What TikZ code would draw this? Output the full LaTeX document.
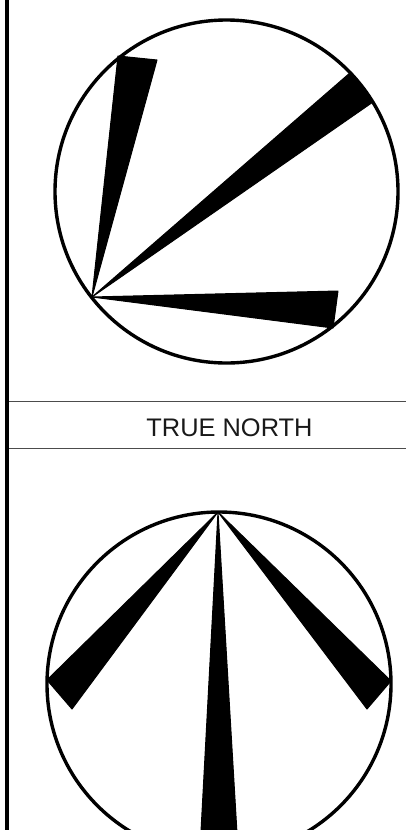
\documentclass[tikz,border=0pt]{standalone}
\usepackage{fontspec}
\setmainfont{Liberation Sans}
\tikzset{
    ring/.style={line width=3.4pt},
    wedge/.style={fill=black, draw=black, line width=1pt, line join=round},
    rule/.style={line width=1pt, draw=black!70}
}

\begin{document}
\begin{tikzpicture}[x=1pt, y=-1pt]
    \useasboundingbox (0, 0) rectangle (406, 830);
    \clip (0, 0) rectangle (406, 830);

    % Frame
    \draw[line width=3.6pt] (7, 0) -- (7, 830);
    \draw[rule] (9, 401.5) -- (406, 401.5);
    \draw[rule] (9, 448.5) -- (406, 448.5);

    % Label
    \node[font=\fontsize{25.4}{30}\selectfont, text=black!90, inner sep=0pt] (label) at (229.5, 427.5) {TRUE NORTH};

    % Upper circle
    \draw[ring] (226.5, 191.5) circle (171.5);
    \fill[wedge] (92, 297) -- (118, 56) -- (157, 60) -- cycle;
    \fill[wedge] (92, 297) -- (351, 72) -- (373, 102) -- cycle;
    \fill[wedge] (92, 297) -- (338, 291) -- (333, 328) -- cycle;

    % Lower circle
    \draw[ring] (219, 684) circle (172);
    \fill[wedge] (218, 512) -- (47, 680) -- (72, 709) -- cycle;
    \fill[wedge] (218, 512) -- (391, 681) -- (367, 709) -- cycle;
    \fill[wedge] (218, 512) -- (200, 850) -- (238, 850) -- cycle;
\end{tikzpicture}
\end{document}
